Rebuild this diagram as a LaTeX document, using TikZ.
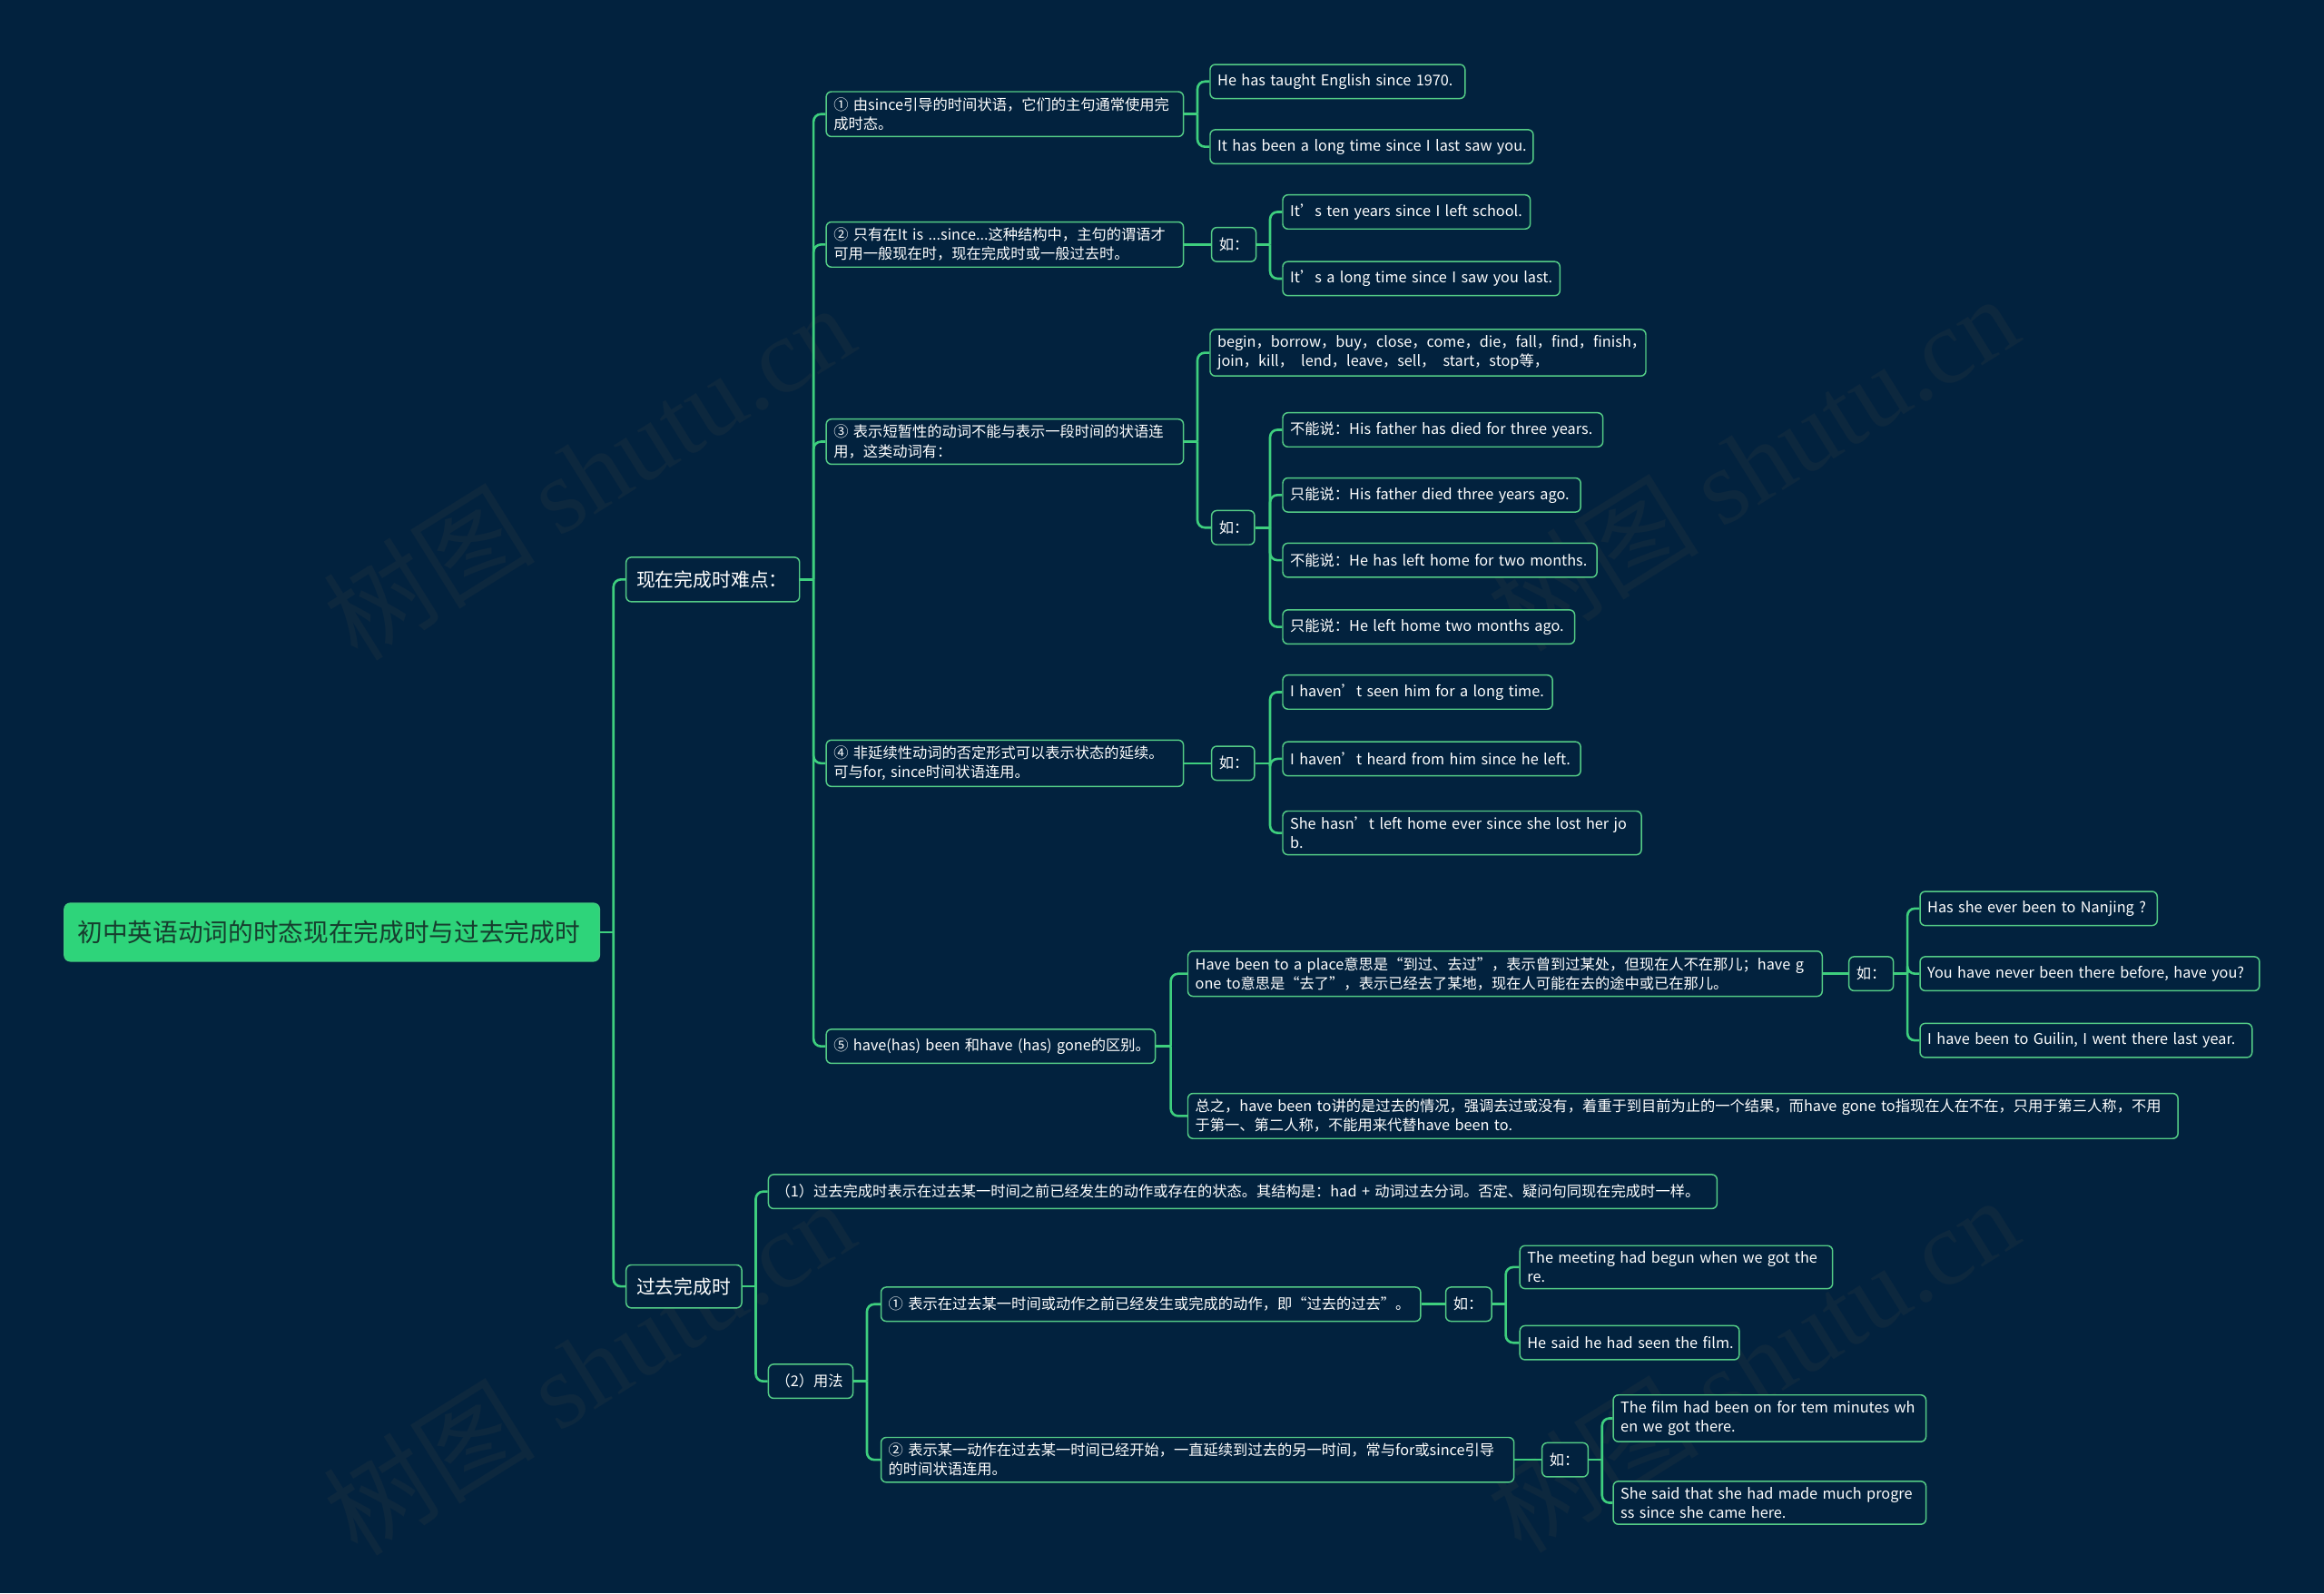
\documentclass[tikz,border=0pt]{standalone}
\usepackage{fontspec}
\setmainfont{Noto Sans CJK SC}
\newfontfamily\wmserif{Liberation Serif}
\usetikzlibrary{calc}
\definecolor{bg}{RGB}{2,34,62}
\definecolor{lineg}{RGB}{62,207,126}
\definecolor{boxg}{RGB}{84,204,134}
\definecolor{rootg}{RGB}{46,212,122}
\definecolor{roottext}{RGB}{22,62,46}
\definecolor{wm}{RGB}{13,40,62}
\newcommand\M[1]{\mbox{#1}}
\newcommand\branch[3]{%
  \draw[conn] (#1.east) -- ++(#2,0);
  \foreach \c in {#3}{\draw[conn,rounded corners=5bp] ($(#1.east)+(#2,0)$) |- (\c.west);}%
}
\tikzset{
  conn/.style={draw=lineg, line width=1.6bp},
  box/.style={draw=boxg, line width=0.9bp, rounded corners=3.5bp, fill=bg, text=white,
    font=\fontsize{10}{13}\selectfont, anchor=west, align=left, inner xsep=5bp, inner ysep=4bp,
    minimum height=23bp},
  lvone/.style={box, font=\fontsize{12.8}{15}\selectfont, minimum height=30bp, inner xsep=7bp},
  rootbox/.style={draw=lineg, line width=0.9bp, rounded corners=4bp, fill=rootg, text=roottext,
    font=\fontsize{17}{20}\selectfont, anchor=west, align=left, inner xsep=9bp, minimum height=39bp},
  wmark/.style={text=wm, font=\fontsize{72}{74}\selectfont, rotate=32},
}
\begin{document}
\begin{tikzpicture}[x=1bp,y=-1bp]
\fill[bg] (0,0) rectangle (1568,1075);
\useasboundingbox (0,0) rectangle (1568,1075);
% watermarks
\node[wmark] (wm1) at (397,318) {树图 {\wmserif shutu.cn}};
\node[wmark] (wm2) at (1182,312) {树图 {\wmserif shutu.cn}};
\node[wmark] (wm3) at (397,922) {树图 {\wmserif shutu.cn}};
\node[wmark] (wm4) at (1182,920) {树图 {\wmserif shutu.cn}};

% root and level 1
\node[rootbox, text width=343bp] (root) at (43,629) {\M{初中英语动词的时态现在完成时与过去完成时}};
\node[lvone, text width=103bp] (L1a) at (422,391) {\M{现在完成时难点：}};
\node[lvone, text width=64bp, minimum height=29bp] (L1b) at (422,868) {\M{过去完成时}};

% level 2 (present perfect)
\node[box, text width=231bp] (a1) at (557,77) {\M{① 由since引导的时间状语，它们的主句通常使用完}\\\M{成时态。}};
\node[box, text width=231bp] (a2) at (557,165) {\M{② 只有在It is ...since...这种结构中，主句的谓语才}\\\M{可用一般现在时，现在完成时或一般过去时。}};
\node[box, text width=231bp] (a3) at (557,298) {\M{③ 表示短暂性的动词不能与表示一段时间的状语连}\\\M{用，这类动词有：}};
\node[box, text width=231bp] (a4) at (557,515) {\M{④ 非延续性动词的否定形式可以表示状态的延续。}\\\M{可与for, since时间状语连用。}};
\node[box, text width=212bp] (a5) at (557,706) {\M{⑤ have(has) been 和have (has) gone的区别。}};

% under 1
\node[box, text width=162bp] (a1c1) at (816,55) {\M{He has taught English since 1970.}};
\node[box, text width=208bp] (a1c2) at (816,99) {\M{It has been a long time since I last saw you.}};
% under 2
\node[box, text width=20bp] (a2ru) at (817,165) {\M{如：}};
\node[box, text width=157bp] (a2c1) at (865,143) {\M{It’s ten years since I left school.}};
\node[box, text width=177bp] (a2c2) at (865,188) {\M{It’s a long time since I saw you last.}};
% under 3
\node[box, text width=284bp] (a3c1) at (816,238) {\M{begin，borrow，buy，close，come，die，fall，find，finish，}\\\M{join，kill，\enspace lend，leave，sell，\enspace start，stop等，}};
\node[box, text width=19bp] (a3ru) at (817,356) {\M{如：}};
\node[box, text width=206bp] (a3r1) at (865,290) {\M{不能说：His father has died for three years.}};
\node[box, text width=191bp] (a3r2) at (865,334) {\M{只能说：His father died three years ago.}};
\node[box, text width=202bp] (a3r3) at (865,378) {\M{不能说：He has left home for two months.}};
\node[box, text width=187bp] (a3r4) at (865,423) {\M{只能说：He left home two months ago.}};
% under 4
\node[box, text width=19bp] (a4ru) at (817,515) {\M{如：}};
\node[box, text width=172bp] (a4c1) at (865,467) {\M{I haven’t seen him for a long time.}};
\node[box, text width=191bp] (a4c2) at (865,512) {\M{I haven’t heard from him since he left.}};
\node[box, text width=232bp] (a4c3) at (865,562) {\M{She hasn’t left home ever since she lost her jo}\\\M{b.}};
% under 5
\node[box, text width=418bp] (a5c1) at (801,657) {\M{Have been to a place意思是“到过、去过”，表示曾到过某处，但现在人不在那儿；have g}\\\M{one to意思是“去了”，表示已经去了某地，现在人可能在去的途中或已在那儿。}};
\node[box, text width=20bp] (a5ru) at (1247,657) {\M{如：}};
\node[box, text width=150bp] (a5r1) at (1295,613) {\M{Has she ever been to Nanjing ?}};
\node[box, text width=219bp] (a5r2) at (1295,657) {\M{You have never been there before, have you?}};
\node[box, text width=214bp] (a5r3) at (1295,702) {\M{I have been to Guilin, I went there last year.}};
\node[box, text width=658bp] (a5c2) at (801,753) {\M{总之，have been to讲的是过去的情况，强调去过或没有，着重于到目前为止的一个结果，而have gone to指现在人在不在，只用于第三人称，不用}\\\M{于第一、第二人称，不能用来代替have been to.}};

% past perfect
\node[box, text width=630bp] (b1) at (518,804) {\M{（1）过去完成时表示在过去某一时间之前已经发生的动作或存在的状态。其结构是：had + 动词过去分词。否定、疑问句同现在完成时一样。}};
\node[box, text width=47bp] (b2) at (518,932) {\M{（2）用法}};
\node[box, text width=354bp] (b2c1) at (594,880) {\M{① 表示在过去某一时间或动作之前已经发生或完成的动作，即“过去的过去”。}};
\node[box, text width=21bp] (b2c1ru) at (975,880) {\M{如：}};
\node[box, text width=201bp] (b2c1r1) at (1025,855) {\M{The meeting had begun when we got the}\\\M{re.}};
\node[box, text width=138bp] (b2c1r2) at (1025,906) {\M{He said he had seen the film.}};
\node[box, text width=417bp] (b2c2) at (594,985) {\M{② 表示某一动作在过去某一时间已经开始，一直延续到过去的另一时间，常与for或since引导}\\\M{的时间状语连用。}};
\node[box, text width=21bp] (b2c2ru) at (1040,985) {\M{如：}};
\node[box, text width=201bp] (b2c2r1) at (1088,957) {\M{The film had been on for tem minutes wh}\\\M{en we got there.}};
\node[box, text width=201bp] (b2c2r2) at (1088,1014) {\M{She said that she had made much progre}\\\M{ss since she came here.}};

% connectors
\branch{root}{9}{L1a,L1b}
\branch{L1a}{9}{a1,a2,a3,a4,a5}
\branch{a1}{9}{a1c1,a1c2}
\draw[conn] (a2.east) -- (a2ru.west);
\branch{a2ru}{9}{a2c1,a2c2}
\branch{a3}{9}{a3c1,a3ru}
\branch{a3ru}{10}{a3r1,a3r2,a3r3,a3r4}
\draw[conn] (a4.east) -- (a4ru.west);
\branch{a4ru}{10}{a4c1,a4c2,a4c3}
\branch{a5}{10}{a5c1,a5c2}
\draw[conn] (a5c1.east) -- (a5ru.west);
\branch{a5ru}{9}{a5r1,a5r2,a5r3}
\branch{L1b}{9}{b1,b2}
\branch{b2}{9}{b2c1,b2c2}
\draw[conn] (b2c1.east) -- (b2c1ru.west);
\branch{b2c1ru}{9}{b2c1r1,b2c1r2}
\draw[conn] (b2c2.east) -- (b2c2ru.west);
\branch{b2c2ru}{9}{b2c2r1,b2c2r2}
\end{tikzpicture}
\end{document}
